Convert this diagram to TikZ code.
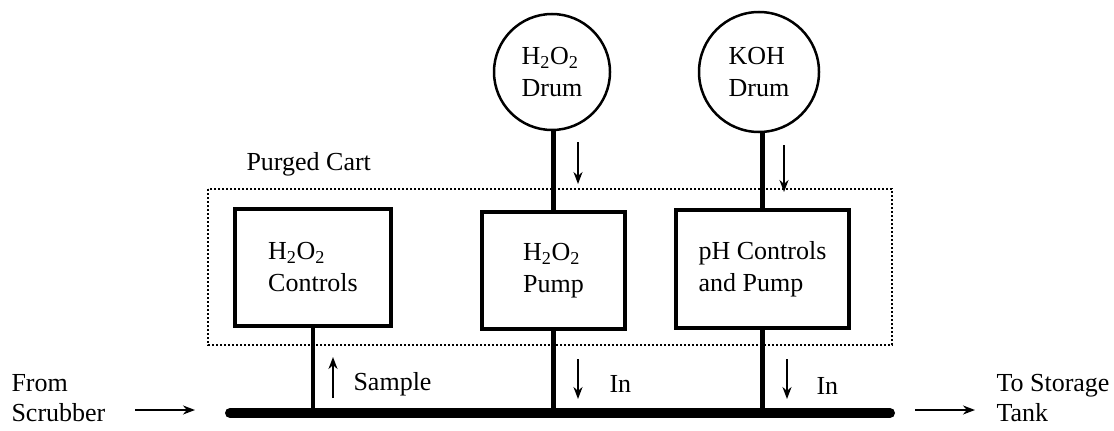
\documentclass[tikz,border=0pt]{standalone}
\usepackage{fontspec}
\setmainfont{Liberation Serif}
\usepackage{tikz}
\usetikzlibrary{arrows.meta,positioning,calc}

\begin{document}
\begin{tikzpicture}[x=1pt, y=-1pt, >={Stealth[length=12pt,width=9pt]},
  font=\fontsize{26}{32}\selectfont,
  unitbox/.style={draw, line width=3.5pt, align=left, inner sep=0pt},
  drum/.style={draw, circle, line width=2.5pt, align=left, inner sep=0pt},
  pipe/.style={line width=4.5pt},
  flow/.style={->, line width=2pt}]
	  \useasboundingbox (0,0) rectangle (1114,431);
	  % cart outline
	  \draw[line width=2pt, dotted] (208,189) rectangle (892,345);
	  \node[anchor=west] (cart) at (243,164) {Purged Cart};
	  % drums
	  \node[drum, minimum size=116pt] (drumA) at (552,72) {H\textsubscript{2}O\textsubscript{2}\\Drum};
	  \node[drum, minimum size=120pt] (drumB) at (759,72) {KOH\\Drum};
	  % units in the cart
	  \node[unitbox, minimum width=156pt, minimum height=117pt] (ctl) at (313,267.5) {H\textsubscript{2}O\textsubscript{2}\\Controls};
	  \node[unitbox, minimum width=143pt, minimum height=117pt] (pumpA) at (553.5,270.5) {H\textsubscript{2}O\textsubscript{2}\\Pump};
	  \node[unitbox, minimum width=173pt, minimum height=118pt] (pumpB) at (762.5,269) {pH Controls\\and Pump};
	  % main line
	  \coordinate (busL) at (230,413);
	  \coordinate (busR) at (890,413);
	  \draw[line width=10pt, line cap=round] (busL) -- (busR);
	  \draw[pipe] (ctl.south) -- (ctl.south |- busL);
	  \draw[pipe] (drumA.south -| pumpA.north) -- (pumpA.north);
	  \draw[pipe] (pumpA.south) -- (pumpA.south |- busL);
	  \draw[pipe] (drumB.south -| pumpB.north) -- (pumpB.north);
	  \draw[pipe] (pumpB.south) -- (pumpB.south |- busL);
	  % ends
	  \node[anchor=west, align=left, font=\fontsize{26}{30}\selectfont] (src) at (8,398) {From\\Scrubber};
	  \node[anchor=west, align=left, font=\fontsize{26}{30}\selectfont] (dst) at (993,398) {To Storage\\Tank};
	  \draw[flow] ($(busL)+(-95,-3)$) -- ($(busL)+(-35,-3)$);
	  \draw[flow] ($(busR)+(25,-3)$) -- ($(busR)+(85,-3)$);
	  % flow marks
	  \draw[flow] (333,398) -- (333,357);
	  \node[anchor=west] (smp) at (350,384) {Sample};
	  \draw[flow] (578,359) -- (578,399);
	  \node[anchor=west] (inA) at (606,384) {In};
	  \draw[flow] (787,359) -- (787,399);
	  \node[anchor=west] (inB) at (813,386) {In};
	  \draw[flow] (578,142) -- (578,184);
	  \draw[flow] (784,145) -- (784,192);
	\end{tikzpicture}
\end{document}
